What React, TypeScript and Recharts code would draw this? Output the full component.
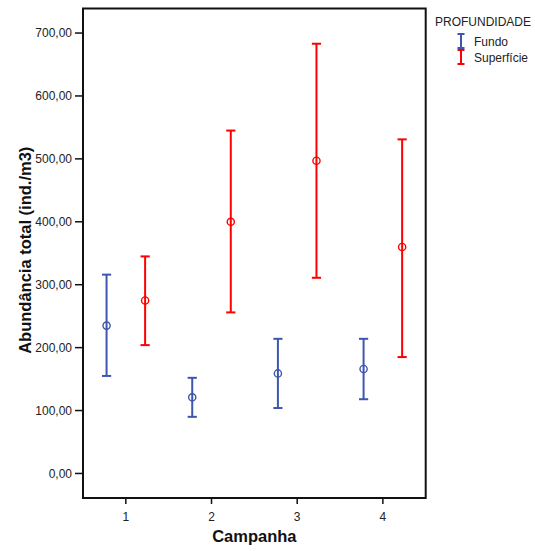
import { ScatterChart, Scatter, XAxis, YAxis, ErrorBar, ReferenceArea, Legend } from "recharts";

const FONT = "Arial, 'Liberation Sans', sans-serif";
const BLUE = "#3E56AE";
const RED = "#FF0000";

// Campanha 1..4, Fundo / Superfície: mean and the ends of the interval
const campanhas = [1, 2, 3, 4];
const fundoMean = [235, 121, 159, 166];
const fundoLow = [155, 90, 104, 118];
const fundoHigh = [316, 152, 214, 214];
const superficieMean = [275, 400, 497, 360];
const superficieLow = [204, 256, 311, 185];
const superficieHigh = [345, 545, 683, 531];

const xTicks = [1, 2, 3, 4];
const yTicks = [0, 100, 200, 300, 400, 500, 600, 700];

// groups sit either side of the category
const OFFSET = 0.225;

const build = (mean: number[], low: number[], high: number[], shift: number) =>
  campanhas.map((c, i) => ({
    x: c + shift,
    y: mean[i],
    err: [mean[i] - low[i], high[i] - mean[i]],
  }));

const fundoData = build(fundoMean, fundoLow, fundoHigh, -OFFSET);
const superficieData = build(superficieMean, superficieLow, superficieHigh, OFFSET);

const series = [
  { name: "Fundo", color: BLUE, data: fundoData },
  { name: "Superfície", color: RED, data: superficieData },
];

const fmt = (v: number) => v.toFixed(2).replace(".", ",");

const circle = (color: string) => (props: any) =>
  <circle cx={props.cx} cy={props.cy} r={3.6} fill="none" stroke={color} strokeWidth={1.4} />;

const YTitle = (props: any) => {
  const vb = props.viewBox || { y: 0, height: 0 };
  const cx = 25;
  const cy = vb.y + vb.height / 2 - 3;
  return (
    <text
      x={cx}
      y={cy}
      transform={`rotate(-90 ${cx} ${cy})`}
      textAnchor="middle"
      dominantBaseline="central"
      style={{ fontFamily: FONT, fontWeight: "bold", fontSize: 16.5, fill: "#111" }}
    >
      Abundância total (ind./m3)
    </text>
  );
};

const XTitle = (props: any) => {
  const vb = props.viewBox || { x: 0, width: 0, y: 0 };
  return (
    <text
      x={vb.x + vb.width / 2}
      y={vb.y + 43.5}
      textAnchor="middle"
      style={{ fontFamily: FONT, fontWeight: "bold", fontSize: 16.5, fill: "#111" }}
    >
      Campanha
    </text>
  );
};

const renderLegend = () => (
  <svg width={535} height={80} style={{ display: "block", overflow: "visible" }}>
    <text x={435} y={26} style={{ fontFamily: FONT, fontSize: 12, fill: "#222" }}>PROFUNDIDADE</text>
    {series.map((s, i) => {
      const top = 34 + i * 16;
      return (
        <g key={s.name}>
          <line x1={461} x2={461} y1={top} y2={top + 14} stroke={s.color} strokeWidth={2} />
          <line x1={457.5} x2={464.5} y1={top} y2={top} stroke={s.color} strokeWidth={2} />
          <line x1={457.5} x2={464.5} y1={top + 14} y2={top + 14} stroke={s.color} strokeWidth={2} />
          <text x={474} y={top + 12} style={{ fontFamily: FONT, fontSize: 12, fill: "#222" }}>{s.name}</text>
        </g>
      );
    })}
  </svg>
);

export default function App() {
  return (
    <div style={{ position: "fixed", left: 0, top: 0, width: 535, height: 551, background: "#fff" }}>
      <ScatterChart width={535} height={551} margin={{ top: 8.5, right: 109.3, bottom: 0, left: 0 }}>
        <XAxis
          type="number"
          dataKey="x"
          domain={[0.5, 4.5]}
          ticks={xTicks}
          allowDataOverflow
          height={53}
          tickSize={6}
          tickMargin={8}
          tickFormatter={(v: number) => String(v)}
          tick={{ fontSize: 12, fill: "#222", fontFamily: FONT }}
          axisLine={{ stroke: "#111", strokeWidth: 2 }}
          tickLine={{ stroke: "#111", strokeWidth: 1.5 }}
          label={XTitle}
        />
        <YAxis
          type="number"
          dataKey="y"
          domain={[-39, 739]}
          ticks={yTicks}
          allowDataOverflow
          width={83}
          tickSize={8}
          tickMargin={3}
          tickFormatter={fmt}
          tick={{ fontSize: 12, fill: "#222", fontFamily: FONT }}
          axisLine={{ stroke: "#111", strokeWidth: 2 }}
          tickLine={{ stroke: "#111", strokeWidth: 1.5 }}
          label={YTitle}
        />
        <ReferenceArea x1={0.5} x2={4.5} y1={-39} y2={739} fill="none" stroke="#111" strokeWidth={2} />
        {series.map((s) => (
          <Scatter
            key={s.name}
            name={s.name}
            data={s.data}
            fill={s.color}
            shape={circle(s.color)}
            isAnimationActive={false}
          >
            <ErrorBar dataKey="err" direction="y" width={4.6} stroke={s.color} strokeWidth={2} />
          </Scatter>
        ))}
        <Legend
          content={renderLegend}
          layout="horizontal"
          verticalAlign="middle"
          align="center"
          wrapperStyle={{ left: 0, top: 0, width: 535, height: 80 }}
        />
      </ScatterChart>
    </div>
  );
}
